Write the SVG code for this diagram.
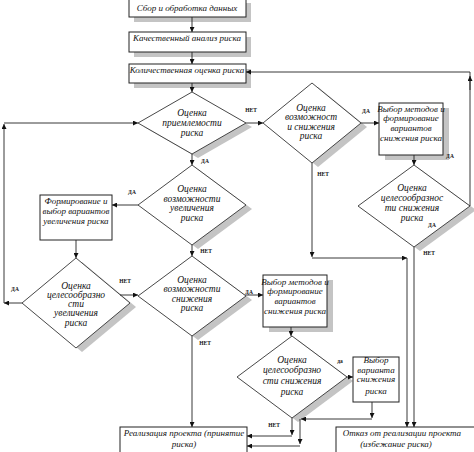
<svg xmlns="http://www.w3.org/2000/svg" width="474" height="452" viewBox="0 0 474 452">
<style>
.box{fill:#fff;stroke:#222;stroke-width:1}
.sh{fill:#c4c4c4;stroke:none}
.dia{fill:#fff;stroke:#333;stroke-width:0.9}
.ln{fill:none;stroke:#222;stroke-width:0.9;marker-end:url(#a)}
.pl{fill:none;stroke:#222;stroke-width:0.9}
.t{font-family:"Liberation Serif","Times New Roman",serif;font-style:italic;font-size:9px;fill:#111;text-anchor:middle}
.td{font-family:"Liberation Serif","Times New Roman",serif;font-style:italic;font-size:9.5px;fill:#111;text-anchor:middle}
.lb{font-family:"Liberation Serif","Times New Roman",serif;font-weight:bold;font-size:5.5px;fill:#111;text-anchor:middle}
</style>
<defs>
<marker id="a" viewBox="0 0 6 6" refX="6" refY="3" markerWidth="6" markerHeight="5" orient="auto" markerUnits="userSpaceOnUse">
<path d="M0,0 L6,3 L0,6 z" fill="#111"/>
</marker>
</defs>
<rect width="474" height="452" fill="#fff"/>

<g id="n1">
<rect class="sh" x="134" y="3" width="117" height="19"/>
<rect class="box" x="129" y="-2" width="117" height="19"/>
<text class="t" x="187" y="11">Сбор и обработка данных</text>
</g>
<g id="n2">
<rect class="sh" x="134" y="37" width="117" height="20"/>
<rect class="box" x="129" y="32" width="117" height="20"/>
<text class="t" x="187" y="41">Качественный анализ риска</text>
</g>
<g id="n3">
<rect class="sh" x="134" y="69" width="117" height="19"/>
<rect class="box" x="129" y="64" width="117" height="19"/>
<text class="t" x="187" y="73">Количественная оценка риска</text>
</g>

<g id="d1">
<polygon class="sh" points="198,96 252,127 198,158 144,127"/>
<polygon class="dia" points="192,92 246,123 192,154 138,123"/>
<text class="td" x="192" y="116">Оценка</text>
<text class="td" x="192" y="126">приемлемости</text>
<text class="td" x="192" y="136">риска</text>
</g>
<g id="d2">
<polygon class="sh" points="318,87 367,127 318,167 269,127"/>
<polygon class="dia" points="312,83 361,123 312,163 263,123"/>
<text class="td" x="311" y="111">Оценка</text>
<text class="td" x="311" y="120">возможност</text>
<text class="td" x="311" y="130">и снижения</text>
<text class="td" x="311" y="139">риска</text>
</g>
<g id="n4">
<rect class="sh" x="385" y="108" width="64" height="52"/>
<rect class="box" x="379" y="103" width="64" height="52"/>
<text class="t" x="411" y="112">Выбор методов и</text>
<text class="t" x="411" y="121">формирование</text>
<text class="t" x="411" y="131">вариантов</text>
<text class="t" x="411" y="141">снижения риска</text>
</g>
<g id="d5">
<polygon class="sh" points="420,169 476,210 420,251 364,210"/>
<polygon class="dia" points="414,165 470,206 414,247 358,206"/>
<text class="td" x="412" y="191">Оценка</text>
<text class="td" x="412" y="201">целесообразнос</text>
<text class="td" x="412" y="211">ти снижения</text>
<text class="td" x="412" y="221">риска</text>
</g>
<g id="d3">
<polygon class="sh" points="198,169 252,209 198,249 144,209"/>
<polygon class="dia" points="192,165 246,205 192,245 138,205"/>
<text class="td" x="192" y="192">Оценка</text>
<text class="td" x="192" y="202">возможности</text>
<text class="td" x="192" y="211">увеличения</text>
<text class="td" x="192" y="221">риска</text>
</g>
<g id="n5">
<rect class="box" x="40" y="195" width="72" height="45"/>
<text class="t" x="76" y="204">Формирование и</text>
<text class="t" x="76" y="214">выбор вариантов</text>
<text class="t" x="76" y="224">увеличения риска</text>
</g>
<g id="d4">
<polygon class="sh" points="82,262 136,307 82,352 28,307"/>
<polygon class="dia" points="76,258 130,303 76,348 22,303"/>
<text class="td" x="76" y="289">Оценка</text>
<text class="td" x="76" y="298">целесообразно</text>
<text class="td" x="76" y="307">сти</text>
<text class="td" x="76" y="316">увеличения</text>
<text class="td" x="76" y="326">риска</text>
</g>
<g id="d6">
<polygon class="sh" points="198,260 252,300 198,340 144,300"/>
<polygon class="dia" points="192,256 246,296 192,336 138,296"/>
<text class="td" x="192" y="283">Оценка</text>
<text class="td" x="192" y="292">возможности</text>
<text class="td" x="192" y="302">снижения</text>
<text class="td" x="192" y="311">риска</text>
</g>
<g id="n6">
<rect class="sh" x="269" y="280" width="64" height="52"/>
<rect class="box" x="263" y="275" width="64" height="52"/>
<text class="t" x="295" y="285">Выбор методов и</text>
<text class="t" x="295" y="294">формирование</text>
<text class="t" x="295" y="304">вариантов</text>
<text class="t" x="295" y="314">снижения риска</text>
</g>
<g id="d7">
<polygon class="sh" points="298,340 353,381 298,422 243,381"/>
<polygon class="dia" points="292,336 347,377 292,418 237,377"/>
<text class="td" x="292" y="363">Оценка</text>
<text class="td" x="292" y="373">целесообразно</text>
<text class="td" x="292" y="384">сти снижения</text>
<text class="td" x="292" y="395">риска</text>
</g>
<g id="n8">
<rect class="box" x="353" y="357" width="46" height="45"/>
<text class="t" x="376" y="363">Выбор</text>
<text class="t" x="376" y="373">варианта</text>
<text class="t" x="376" y="382">снижения</text>
<text class="t" x="376" y="394">риска</text>
</g>
<g id="n9">
<rect class="box" x="120" y="427" width="127" height="35"/>
<text class="t" x="184" y="436">Реализация проекта (принятие</text>
<text class="t" x="184" y="447">риска)</text>
</g>
<g id="n7">
<rect class="box" x="336" y="427" width="142" height="35"/>
<text class="t" x="402" y="436">Отказ от реализации проекта</text>
<text class="t" x="396" y="447">(избежание риска)</text>
</g>

<g id="connectors">
<path class="ln" d="M192,17 V32"/>
<path class="ln" d="M192,52 V64"/>
<path class="ln" d="M192,83 V92"/>
<path class="pl" d="M470,206 V72"/>
<path class="ln" d="M470,90 V76"/>
<path class="ln" d="M470,72 H246"/>
<path class="ln" d="M22,303 H4"/>
<path class="ln" d="M4,303 V124"/>
<path class="ln" d="M4,123 H138"/>
<path class="ln" d="M246,123 H263"/>
<path class="ln" d="M361,123 H379"/>
<path class="ln" d="M414,155 V165"/>
<path class="ln" d="M312,163 V257"/>
<path class="ln" d="M312,258 H407"/>
<path class="ln" d="M407,258 V427"/>
<path class="ln" d="M414,247 V427"/>
<path class="ln" d="M192,154 V165"/>
<path class="ln" d="M138,205 H112"/>
<path class="ln" d="M76,240 V258"/>
<path class="ln" d="M120,295 H138"/>
<path class="ln" d="M192,245 V256"/>
<path class="ln" d="M246,295 H263"/>
<path class="ln" d="M291,327 V336"/>
<path class="ln" d="M347,377 H353"/>
<path class="ln" d="M372,402 V418"/>
<path class="ln" d="M372,419 H301"/>
<path class="ln" d="M300,419 V444"/>
<path class="ln" d="M300,446 H247"/>
<path class="ln" d="M292,418 V435"/>
<path class="ln" d="M292,436 H247"/>
<path class="ln" d="M192,336 V427"/>
</g>

<g id="labels">
<text class="lb" x="251" y="112">НЕТ</text>
<text class="lb" x="205" y="163">ДА</text>
<text class="lb" x="132" y="194">ДА</text>
<text class="lb" x="206" y="253">НЕТ</text>
<text class="lb" x="366" y="113">ДА</text>
<text class="lb" x="450" y="158">ДА</text>
<text class="lb" x="323" y="176">НЕТ</text>
<text class="lb" x="432" y="227">ДА</text>
<text class="lb" x="429" y="255">НЕТ</text>
<text class="lb" x="15" y="291">ДА</text>
<text class="lb" x="125" y="283">НЕТ</text>
<text class="lb" x="249" y="294">ДА</text>
<text class="lb" x="205" y="345">НЕТ</text>
<text class="lb" x="340" y="363">да</text>
<text class="lb" x="274" y="427">НЕТ</text>
</g>
</svg>
